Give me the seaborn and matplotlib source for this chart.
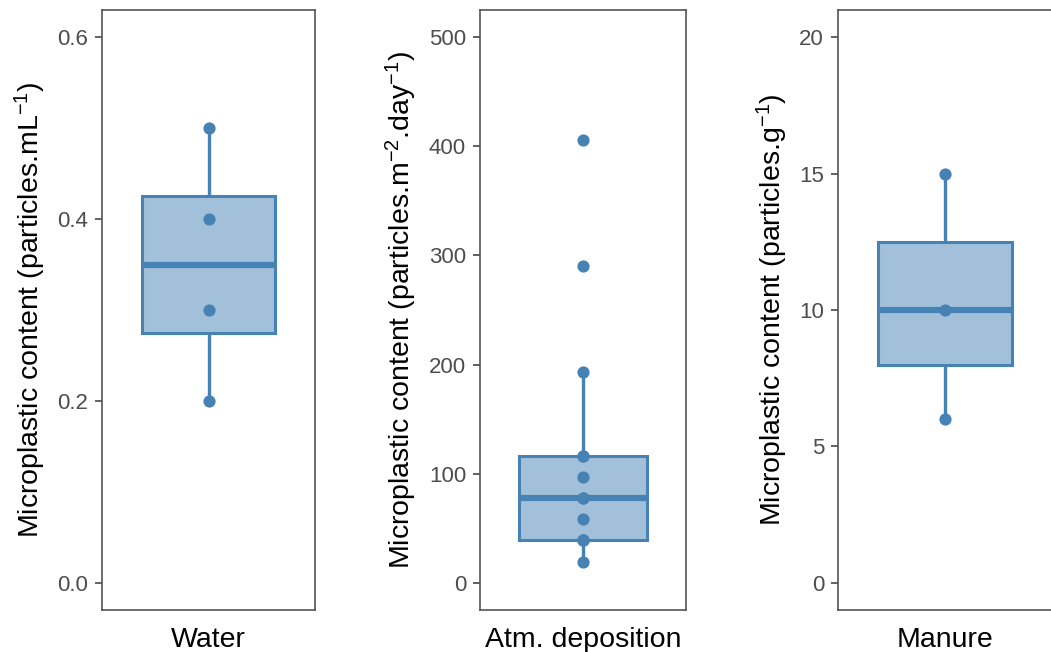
import matplotlib
matplotlib.use("Agg")
import matplotlib.pyplot as plt
import seaborn as sns
import pandas as pd

sns.set_theme(style="white")
plt.rcParams['font.family'] = ['Liberation Sans', 'DejaVu Sans']
plt.rcParams['mathtext.fontset'] = 'custom'
plt.rcParams['mathtext.rm'] = 'Liberation Sans'
plt.rcParams['mathtext.it'] = 'Liberation Sans:italic'
plt.rcParams['mathtext.default'] = 'regular'

# ---- data ----
categories = ["Water", "Atm. deposition", "Manure"]
water_values = [0.2, 0.3, 0.4, 0.5]
atm_values = [19, 39, 39, 39, 58, 78, 78, 97, 116, 116, 193, 290, 406]
manure_values = [6, 10, 15]
y_labels = [
    "Microplastic content (particles.mL$^{-1}$)",
    "Microplastic content (particles.m$^{-2}$.day$^{-1}$)",
    "Microplastic content (particles.g$^{-1}$)",
]
y_ticks = [[0.0, 0.2, 0.4, 0.6], [0, 100, 200, 300, 400, 500], [0, 5, 10, 15, 20]]
y_tick_labels = [["0.0", "0.2", "0.4", "0.6"],
                 ["0", "100", "200", "300", "400", "500"],
                 ["0", "5", "10", "15", "20"]]
y_max = [0.6, 500, 20]

series = [water_values, atm_values, manure_values]

W, H = 1051, 652
fig = plt.figure(figsize=(W / 100, H / 100), dpi=100)
lefts = [102, 480, 838]
widths = [213, 206, 214]
top, bottom = 10, 610

line_col = "#4682B4"
fill_col = "#A2C0D9"
spine_col = "#555555"

for i in range(3):
    ax = fig.add_axes([lefts[i] / W, (H - bottom) / H, widths[i] / W, (bottom - top) / H])
    df = pd.DataFrame({"category": categories[i], "value": series[i]})
    sns.boxplot(data=df, x="category", y="value", ax=ax, width=0.75,
                color=fill_col, linecolor=line_col, linewidth=2.2,
                showfliers=False, showcaps=False, whis=1.5,
                medianprops={"linewidth": 4.5, "color": line_col},
                whiskerprops={"linewidth": 2.4, "color": line_col},
                boxprops={"edgecolor": line_col, "facecolor": fill_col})
    sns.stripplot(data=df, x="category", y="value", ax=ax, jitter=False,
                  color=line_col, size=8.8, linewidth=0, zorder=5)
    rng = y_max[i]
    ax.set_ylim(-0.05 * rng, 1.05 * rng)
    ax.set_xlim(-0.6, 0.6)
    ax.set_yticks(y_ticks[i])
    ax.set_yticklabels(y_tick_labels[i])
    ax.set_xlabel("")
    ax.set_ylabel(y_labels[i], fontsize=20.5, color="black", labelpad=7)
    ax.tick_params(axis="y", which="both", left=True, length=5, width=1.3,
                   color=spine_col, labelsize=16, labelcolor="#4D4D4D", pad=5)
    ax.tick_params(axis="x", length=0, labelsize=20.5, labelcolor="black", pad=12)
    for s in ax.spines.values():
        s.set_visible(True)
        s.set_color(spine_col)
        s.set_linewidth(1.2)

fig.savefig("out.png", dpi=100, facecolor="white")
